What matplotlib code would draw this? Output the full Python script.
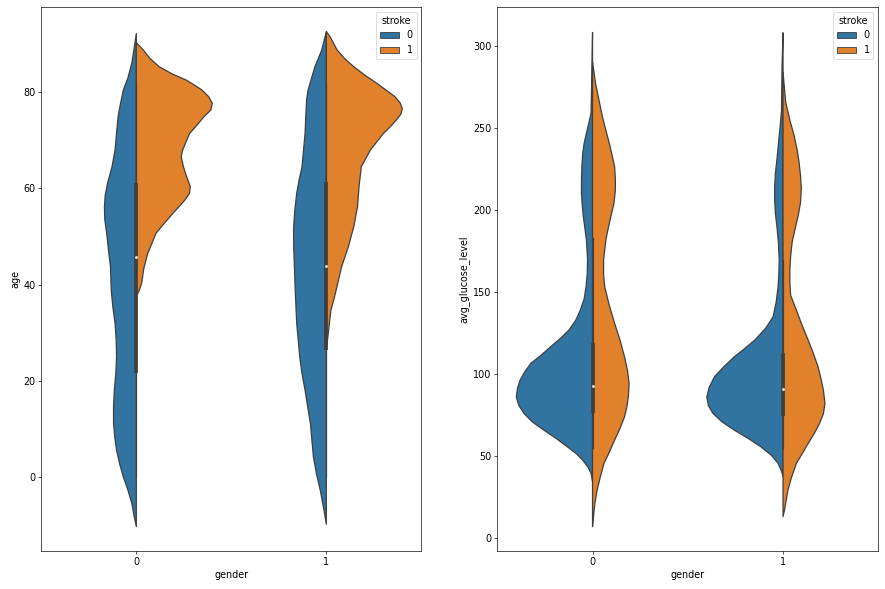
import matplotlib
matplotlib.use("Agg")
import matplotlib.pyplot as plt
from matplotlib.patches import Patch
import numpy as np

# ── Data (split violins: gender x stroke) ────────────────────────────────────
GENDERS = [0, 1]
STROKE_LEVELS = ["0", "1"]

# age: value grid and relative density (1.0 = widest half-violin)
AGE_G0_S0_Y = [92.2, 89, 86, 83, 80.5, 77.5, 74.9, 71.5, 68, 64.5, 61, 58.5, 56.2, 53.5, 50.7, 47, 43.7, 38.9, 35.5, 32, 28.5, 25, 21.5, 18, 14.5, 11.2, 8.5, 5.6, 2.8, 0, -2.7, -5.4, -8, -10.3]
AGE_G0_S0_D = [0, .03, .06, .11, .17, .21, .24, .26, .28, .32, .38, .41, .42, .415, .39, .365, .34, .33, .31, .28, .265, .26, .27, .29, .30, .30, .285, .26, .22, .17, .11, .06, .03, 0]
AGE_G0_S1_Y = [90.3, 88.8, 87, 85.3, 83.8, 82.5, 80.5, 79.1, 77.7, 76.3, 74.9, 73.2, 71.4, 68, 66.6, 64.5, 62.5, 60.4, 59, 57.6, 54.8, 52.8, 50.7, 46.5, 43.5, 40.3, 38.9, 37.5]
AGE_G0_S1_D = [0, .09, .18, .30, .47, .66, .86, .95, 1.0, .98, .89, .80, .70, .61, .59, .62, .66, .71, .70, .64, .48, .37, .26, .15, .10, .07, .04, 0]
AGE_G1_S0_Y = [92.6, 88.8, 85.3, 80.5, 78.4, 75, 71.4, 68, 64.5, 62, 59, 55.5, 52, 48, 43.7, 38.9, 35.5, 32, 28.5, 25, 21.5, 18.1, 14.6, 11.2, 7.7, 4.2, 0.7, -2.7, -6.9, -9.8]
AGE_G1_S0_D = [0, .06, .15, .24, .26, .27, .28, .30, .32, .355, .39, .415, .43, .43, .42, .41, .40, .39, .37, .35, .32, .28, .245, .21, .19, .17, .13, .08, .03, 0]
AGE_G1_S1_Y = [92.6, 91.5, 88.8, 87, 85.3, 83.5, 81.9, 79.1, 77.8, 76.6, 75.4, 74.2, 72.8, 71.4, 68, 64.5, 60.4, 56.2, 52, 47.9, 43.7, 39.6, 37, 34.7, 30.6, 26.4]
AGE_G1_S1_D = [0, .05, .14, .24, .36, .51, .66, .90, .97, 1.0, .98, .92, .84, .75, .58, .46, .43, .41, .36, .29, .20, .14, .10, .06, .03, 0]

AGE_Q1 = [21.6, 26.4]
AGE_MED = [45.8, 43.9]
AGE_Q3 = [61.2, 61.4]
AGE_LO = [0.08, 0.08]
AGE_HI = [82, 82]

# avg_glucose_level
GLU_G0_S0_Y = [308.5, 280, 259, 251, 241, 234, 226.6, 218, 210.4, 203, 196, 189, 181.9, 169.7, 161, 153.4, 146, 139.2, 133, 127, 122, 116.8, 111.5, 106.7, 101.5, 96.5, 91.5, 86.3, 81.3, 76.2, 71, 66, 61, 55.8, 51.5, 47.7, 43.5, 39.6, 34.5]
GLU_G0_S0_D = [0, .01, .02, .06, .11, .13, .14, .145, .145, .135, .12, .10, .08, .065, .07, .085, .11, .16, .22, .31, .42, .55, .68, .81, .89, .95, .985, 1.0, .97, .90, .79, .64, .48, .33, .21, .13, .06, .02, 0]
GLU_G0_S1_Y = [290.6, 277.4, 257, 248, 240.9, 233, 226.6, 219, 212.4, 204, 196.1, 189, 181.9, 169.7, 161, 153.4, 142, 131.1, 121, 110.7, 102, 94.5, 86.3, 80, 74.1, 67, 59.9, 52.5, 45.7, 37, 29.4, 21, 13.2, 7.1]
GLU_G0_S1_D = [0, .04, .13, .18, .22, .26, .29, .30, .30, .28, .24, .205, .175, .145, .145, .16, .22, .29, .36, .42, .46, .48, .47, .45, .42, .36, .29, .22, .15, .10, .06, .03, .013, 0]
GLU_G1_S0_Y = [308.3, 287.6, 261, 250, 240.9, 231, 222.6, 214, 206.3, 198, 190, 180, 169.7, 161, 153.4, 144, 135.1, 128, 120.9, 115.5, 110.7, 104.5, 98.5, 92, 86.3, 81, 76.2, 71, 66, 61, 55.8, 50.5, 45.7, 41, 37.6]
GLU_G1_S0_D = [0, .013, .02, .04, .06, .08, .10, .11, .11, .10, .08, .06, .05, .055, .065, .09, .13, .23, .37, .51, .64, .78, .90, .97, 1.0, .98, .92, .80, .64, .46, .29, .15, .065, .02, 0]
GLU_G1_S1_Y = [284.3, 266, 255, 245.7, 237, 229.4, 221, 213.2, 205, 196.9, 188, 180.7, 172, 164.4, 156, 148.2, 139.2, 130, 120.9, 112.5, 104.6, 97, 90.4, 82.3, 76, 70.1, 64, 57.9, 51.5, 45.7, 37, 29.5, 17.3, 13.2]
GLU_G1_S1_D = [0, .035, .09, .145, .185, .21, .23, .24, .23, .20, .155, .12, .10, .09, .09, .10, .175, .25, .33, .40, .46, .50, .53, .55, .53, .48, .41, .33, .25, .175, .11, .065, .02, 0]

GLU_Q1 = [76.6, 74.8]
GLU_MED = [93, 90.9]
GLU_Q3 = [119.3, 113.2]
GLU_LO = [55.1, 55.2]
GLU_HI = [183, 170]

C_BLUE = "#3274a1"
C_ORANGE = "#e1812c"
C_EDGE = "#3f3f3f"
HALF_W = 0.4

plt.rcParams["font.size"] = 11.5

fig = plt.figure(figsize=(885 / 60, 589 / 60), dpi=60)
ax1 = fig.add_axes([0.0467, 0.064, 0.4294, 0.9241])
ax2 = fig.add_axes([0.5619, 0.064, 0.4305, 0.9241])


def draw_half(ax, pos, ys, dens, side, color):
    ys = np.asarray(ys)
    w = np.asarray(dens) * HALF_W
    xs = pos - w if side == "left" else pos + w
    ax.fill(np.r_[xs, [pos, pos]], np.r_[ys, [ys[-1], ys[0]]],
            facecolor=color, edgecolor=C_EDGE, linewidth=1.5,
            joinstyle="round", zorder=2)


def draw_box(ax, pos, lo, q1, med, q3, hi):
    ax.plot([pos, pos], [lo, hi], color=C_EDGE, linewidth=1.5, zorder=3)
    ax.plot([pos, pos], [q1, q3], color=C_EDGE, linewidth=4.5,
            solid_capstyle="butt", zorder=3)
    ax.scatter([pos], [med], s=5, color="white", zorder=4)


panels = [
    (ax1, "age",
     [(AGE_G0_S0_Y, AGE_G0_S0_D, AGE_G0_S1_Y, AGE_G0_S1_D),
      (AGE_G1_S0_Y, AGE_G1_S0_D, AGE_G1_S1_Y, AGE_G1_S1_D)],
     (AGE_LO, AGE_Q1, AGE_MED, AGE_Q3, AGE_HI), (-15.4, 97.7), [0, 20, 40, 60, 80]),
    (ax2, "avg_glucose_level",
     [(GLU_G0_S0_Y, GLU_G0_S0_D, GLU_G0_S1_Y, GLU_G0_S1_D),
      (GLU_G1_S0_Y, GLU_G1_S0_D, GLU_G1_S1_Y, GLU_G1_S1_D)],
     (GLU_LO, GLU_Q1, GLU_MED, GLU_Q3, GLU_HI), (-7.9, 324), [0, 50, 100, 150, 200, 250, 300]),
]

for ax, ylabel, violins, box, ylim, yticks in panels:
    for i, g in enumerate(GENDERS):
        y0, d0, y1, d1 = violins[i]
        draw_half(ax, i, y0, d0, "left", C_BLUE)
        draw_half(ax, i, y1, d1, "right", C_ORANGE)
        lo, q1, med, q3, hi = (b[i] for b in box)
        draw_box(ax, i, lo, q1, med, q3, hi)
    ax.set_xlim(-0.5, 1.5)
    ax.set_ylim(*ylim)
    ax.set_xticks(range(len(GENDERS)))
    ax.set_xticklabels([str(g) for g in GENDERS])
    ax.set_yticks(yticks)
    ax.set_xlabel("gender")
    ax.set_ylabel(ylabel)
    handles = [Patch(facecolor=C_BLUE, edgecolor=C_EDGE, label=STROKE_LEVELS[0]),
               Patch(facecolor=C_ORANGE, edgecolor=C_EDGE, label=STROKE_LEVELS[1])]
    ax.legend(handles=handles, title="stroke", loc="upper right")

fig.savefig("out.png", dpi=60)
